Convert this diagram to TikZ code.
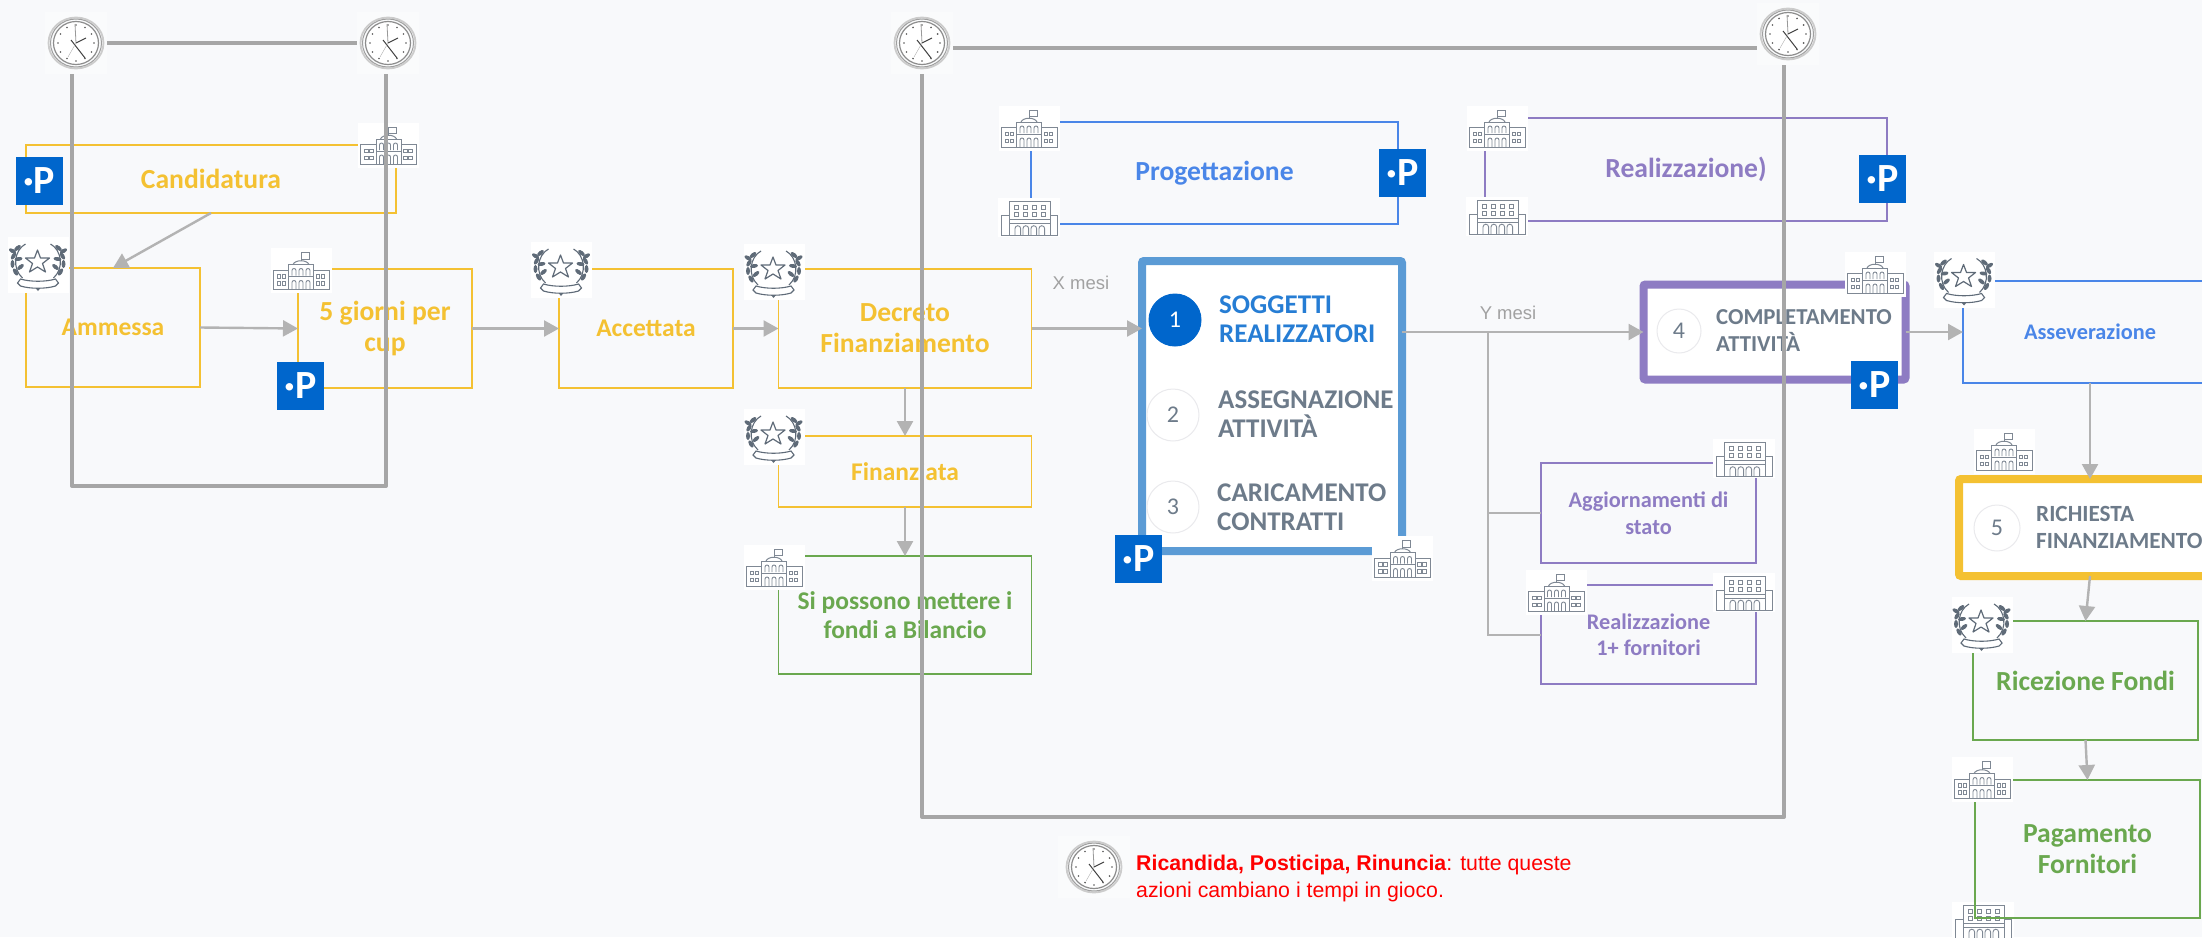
\documentclass[tikz,border=0pt]{standalone}
\usepackage{xcolor}
\usepackage{fontspec}
\setmainfont{Liberation Sans}
\newfontfamily\titlefont{Carlito}
\usetikzlibrary{arrows.meta}

\definecolor{pagebg}{HTML}{F8F9FB}
\definecolor{yellowline}{HTML}{F4C132}
\definecolor{blueline}{HTML}{4A86E8}
\definecolor{purpleline}{HTML}{8E7CC3}
\definecolor{greenline}{HTML}{6AA84F}
\definecolor{stepblue}{HTML}{5B9BD5}
\definecolor{pblue}{HTML}{0066CC}
\definecolor{iconline}{HTML}{7F8894}
\definecolor{wreathline}{HTML}{5F6B78}
\definecolor{framegray}{HTML}{A6A6A6}
\definecolor{linkgray}{HTML}{B3B3B3}
\definecolor{stepgray}{HTML}{6D7B8A}

% icons, drawn from the centre of their node
\newcommand{\buildingdraw}{
  \draw[iconline, line width=1pt] (-28,-0.3) rectangle (28,19);
  \draw[iconline, line width=1pt, fill=white] (-12.5,-6) rectangle (12.5,19);
  \draw[iconline, line width=1pt] (-12.5,6) -- (12.5,6);
  \draw[iconline, line width=1pt] (-8,-6) .. controls (-6,-11) and (6,-11) .. (8,-6);
  \draw[iconline, line width=1pt] (0,-10) -- (0,-18) -- (8,-18) -- (8,-11.5) -- (0,-11.5);
  \foreach \wx in {-24,-19,15,20} \foreach \wy in {4,11}
    \draw[iconline, line width=0.9pt] (\wx,\wy) rectangle ++(3.5,3.5);
  \foreach \ax in {-9,-2,5} {
    \draw[iconline, line width=0.9pt] (\ax,5) -- (\ax,0) arc[start angle=180, end angle=360, radius=2] -- ++(0,5);
    \draw[iconline, line width=0.9pt] (\ax,19) -- (\ax,12) arc[start angle=180, end angle=360, radius=2] -- ++(0,7);
  }
}
\newcommand{\flatdraw}{
  \draw[iconline, line width=1pt] (-28,-2) rectangle (28,18);
  \draw[iconline, line width=1pt, fill=white] (-20,-16) rectangle (21,18);
  \draw[iconline, line width=1pt] (-20,2) -- (21,2) (-20,6) -- (21,6);
  \foreach \wx in {-15,-6,3,12} \foreach \wy in {-12,-5}
    \draw[iconline, line width=0.9pt] (\wx,\wy) rectangle ++(4,4);
  \foreach \ax in {-14,-6,2,10}
    \draw[iconline, line width=0.9pt] (\ax,18) -- (\ax,11) arc[start angle=180, end angle=360, radius=2.8] -- ++(0,7);
}
\newcommand{\wreathdraw}{
  \draw[wreathline, line width=1.2pt, line join=round] (-1,-15)
    -- (2,-7) -- (11,-7) -- (4,-1.5) -- (7,7) -- (-1,2) -- (-9,7) -- (-6,-1.5) -- (-13,-7) -- (-4,-7) -- cycle;
  \draw[wreathline, line width=1.1pt] (-13,-21) .. controls (-24,-15) and (-27,3) .. (-16,13);
  \draw[wreathline, line width=1.1pt] (12,-21) .. controls (23,-15) and (26,3) .. (15,13);
  \foreach \ly/\lx/\lr in {-17/-21/40,-9/-25/60,-1/-26/90,7/-23/120,-14/-26/-30,-6/-20/10,2/-18/40} {
    \fill[wreathline] (\lx,\ly) ellipse[x radius=4, y radius=2, rotate=\lr];
    \fill[wreathline] (-\lx-1,\ly) ellipse[x radius=4, y radius=2, rotate=-\lr];
  }
  \draw[wreathline, line width=1.1pt, fill=white] (-18,14) .. controls (-8,17) and (7,17) .. (17,14)
    -- (20,18) -- (17,21) .. controls (7,24) and (-8,24) .. (-18,21) -- (-21,18) -- cycle;
  \fill[wreathline] (-3,23) -- (2,23) -- (-0.5,26) -- cycle;
}
\newcommand{\clockdraw}{
  \draw[gray!40, line width=1.8pt] (0,0) ellipse[x radius=27.5, y radius=25.5];
  \draw[gray!75, line width=1pt] (0,0) ellipse[x radius=25.5, y radius=24];
  \draw[gray!90, line width=1.2pt, fill=white] (0,0) ellipse[x radius=22.5, y radius=21.5];
  \foreach \tick in {0,30,...,330}
    \fill[black!65] (\tick:18) circle[radius=0.9];
  \draw[gray!80, line width=0.8pt] (0,0) -- (-1,-19);
  \draw[black!75, line width=1pt] (0,0) -- (10,-5);
  \draw[black!75, line width=1pt] (-5,-3) -- (9,15);
  \draw[gray!60, line width=0.4pt] (0,0) -- (-8,14);
}

\tikzset{
  stagebox/.style={draw=#1, text=#1, line width=1.6pt, outer sep=0pt, inner sep=0pt, align=center,
    font=\titlefont\bfseries\fontsize{27.6}{31}\selectfont},
  stagemid/.style={font=\titlefont\bfseries\fontsize{25.5}{29}\selectfont},
  stagesmall/.style={font=\titlefont\bfseries\fontsize{22.3}{26.5}\selectfont},
  stepframe/.style={draw=#1, line width=8pt, fill=white, rounded corners=2pt, outer sep=0pt},
  stepnum/.style={circle, draw=#1, line width=1pt, fill=white, inner sep=0pt, outer sep=0pt, text=stepgray,
    font=\titlefont\fontsize{24}{24}\selectfont},
  steptext/.style={anchor=west, inner sep=0pt, align=left, text=stepgray,
    font=\titlefont\bfseries\fontsize{27}{29}\selectfont},
  ptag/.style={fill=pblue, text=white, minimum width=47pt, minimum height=48pt, inner sep=0pt, outer sep=0pt,
    font=\titlefont\bfseries\fontsize{40}{40}\selectfont},
  building/.style={fill=white, minimum width=61pt, minimum height=45pt, inner sep=0pt, outer sep=0pt,
    path picture={\buildingdraw}},
  flatblock/.style={fill=white, minimum width=62pt, minimum height=39pt, inner sep=0pt, outer sep=0pt,
    path picture={\flatdraw}},
  wreath/.style={fill=white, minimum width=61pt, minimum height=56pt, inner sep=0pt, outer sep=0pt,
    path picture={\wreathdraw}},
  clockface/.style={fill=white!30!pagebg, minimum width=#1pt, minimum height=62pt, inner sep=0pt, outer sep=0pt,
    path picture={\begin{scope}[scale=#1/62]\clockdraw\end{scope}}},
  link/.style={draw=linkgray, line width=2.4pt, -{Triangle[length=15pt,width=16pt]}},
  branch/.style={draw=linkgray, line width=2pt},
  frameline/.style={draw=framegray, line width=4pt, line join=round},
  timelabel/.style={text=linkgray!90!black, font=\fontsize{18.5}{18.5}\selectfont, inner sep=0pt}
}

\begin{document}
\begin{tikzpicture}[x=1pt, y=-1pt]
  \useasboundingbox (0,0) rectangle (2202,937);
  \fill[pagebg] (0,0) rectangle (2202,937);

  % stage boxes
  \node[stagebox=yellowline, minimum width=370pt, minimum height=68pt] (candidatura) at (211,179) {Candidatura};
  \node[stagebox=yellowline, stagemid, minimum width=174pt, minimum height=119pt] (ammessa) at (113,327.5) {Ammessa};
  \node[stagebox=yellowline, minimum width=174pt, minimum height=119pt] (giorni) at (385,328.5) {5 giorni per\\cup};
  \node[stagebox=yellowline, stagemid, minimum width=174pt, minimum height=119pt] (accettata) at (646,328.5) {Accettata};
  \node[stagebox=yellowline, minimum width=253pt, minimum height=119pt] (decreto) at (905,328.5) {Decreto\\Finanziamento};
  \node[stagebox=yellowline, stagemid, minimum width=253pt, minimum height=71pt] (finanziata) at (905,471.5) {Finanziata};
  \node[stagebox=greenline, stagemid, minimum width=253pt, minimum height=118pt] (bilancio) at (905,615) {Si possono mettere i\\fondi a Bilancio};
  \node[stagebox=blueline, minimum width=367pt, minimum height=102pt] (progettazione) at (1214.5,173) {Progettazione};
  \node[stagebox=purpleline, minimum width=402pt, minimum height=103pt] (realizzazione) at (1686,169.5) {Realizzazione)};
  \node[stagebox=purpleline, stagesmall, minimum width=215pt, minimum height=100pt] (aggiornamenti) at (1648.5,513) {Aggiornamenti di\\stato};
  \node[stagebox=purpleline, stagesmall, minimum width=215pt, minimum height=99pt] (fornitori) at (1648.5,634.5) {Realizzazione\\1+ fornitori};
  \node[stagebox=blueline, stagesmall, minimum width=254pt, minimum height=102pt] (asseverazione) at (2090,332) {Asseverazione};
  \node[stagebox=greenline, minimum width=225pt, minimum height=119pt] (ricezione) at (2085.5,680.5) {Ricezione Fondi};

  \node[flatblock] (pagamentofine) at (1983,921) {};
  \node[stagebox=greenline, minimum width=225pt, minimum height=138pt] (pagamento) at (2087.5,849) {Pagamento\\Fornitori};

  % step panels
  \node[stepframe=stepblue, minimum width=260pt, minimum height=290pt] (soggetti) at (1272,406) {};
  \node[stepnum=pblue, fill=pblue, text=white, minimum size=52pt] (uno) at (1175,320) {1};
  \node[steptext, text=pblue!85!white] (unotext) at (1219,319.5) {SOGGETTI\\REALIZZATORI};
  \node[stepnum=blue!8!gray!15, minimum size=52pt] (due) at (1173,415) {2};
  \node[steptext] (duetext) at (1218,414.5) {ASSEGNAZIONE\\ATTIVITÀ};
  \node[stepnum=blue!8!gray!15, minimum size=52pt] (tre) at (1173,507) {3};
  \node[steptext] (tretext) at (1217,507) {CARICAMENTO\\CONTRATTI};

  \node[stepframe=purpleline, minimum width=262pt, minimum height=95pt] (completamento) at (1774.5,332) {};
  \node[stepnum=blue!8!gray!15, minimum size=44pt] (quattro) at (1679,331) {4};
  \node[steptext, font=\titlefont\bfseries\fontsize{22.8}{27}\selectfont] (quattrotext) at (1716,330.5) {COMPLETAMENTO\\ATTIVITÀ};

  \node[stepframe=yellowline, minimum width=262pt, minimum height=97pt] (richiesta) at (2090,527.5) {};
  \node[stepnum=blue!8!gray!15, minimum size=46pt] (cinque) at (1997,528) {5};
  \node[steptext, font=\titlefont\bfseries\fontsize{23.2}{27}\selectfont] (cinquetext) at (2036,527.5) {RICHIESTA\\FINANZIAMENTO};

  % connectors
  \draw[link] (candidatura.south) -- (ammessa.north);
  \draw[link] (ammessa.east) -- (giorni.west);
  \draw[link] (giorni.east) -- (accettata.west);
  \draw[link] (accettata.east) -- (decreto.west);
  \draw[link] (decreto.south) -- (finanziata.north);
  \draw[link] (finanziata.south) -- (bilancio.north);
  \draw[link] (decreto.east) -- (decreto.east -| soggetti.west);
  \draw[link] (soggetti.east |- completamento.west) -- (completamento.west);
  \draw[link] (completamento.east) -- (asseverazione.west);
  \draw[link] (asseverazione.south) -- (richiesta.north);
  \draw[link] (richiesta.south) -- (ricezione.north);
  \draw[link] (ricezione.south) -- (pagamento.north);
  \coordinate (ybranch) at (1488,332);
  \draw[branch] (ybranch) |- (fornitori.west);
  \draw[branch] (ybranch |- aggiornamenti.west) -- (aggiornamenti.west);
  \node[timelabel] (xmesi) at (1081,283) {X mesi};
  \node[timelabel] (ymesi) at (1508,313) {Y mesi};

  % icons
  \node[building] (icona) at (388.5,145) {};
  \node[building] (iconb) at (301,270.5) {};
  \node[building] (iconc) at (774,567) {};
  \node[building] (icond) at (1402.5,558.5) {};
  \node[building] (icone) at (1029,128) {};
  \node[flatblock] (iconf) at (1029,217.5) {};
  \node[building] (icong) at (1497,128) {};
  \node[flatblock] (iconh) at (1497,216) {};
  \node[building] (iconi) at (1875,274) {};
  \node[flatblock] (iconj) at (1744,458.5) {};
  \node[building] (iconk) at (1556.5,592) {};
  \node[flatblock] (iconl) at (1744,592) {};
  \node[building] (iconm) at (2004,451) {};
  \node[building] (iconn) at (1982,779.5) {};
  \node[wreath] (wreatha) at (38.5,265) {};
  \node[wreath] (wreathb) at (561.5,270) {};
  \node[wreath] (wreathc) at (774,272) {};
  \node[wreath] (wreathd) at (774,437) {};
  \node[wreath] (wreathe) at (1964.5,279.5) {};
  \node[wreath] (wreathf) at (1982,625) {};

  % P tags
  \node[ptag] (pa) at (39,181) {·P};
  \node[ptag] (pb) at (300.5,386) {·P};
  \node[ptag] (pc) at (1138.5,559) {·P};
  \node[ptag] (pd) at (1402.5,173) {·P};
  \node[ptag] (pe) at (1882.5,179) {·P};
  \node[ptag] (pf) at (1874.5,385) {·P};

  % clocks and time frames
  \node[clockface=62] (clocka) at (76,43) {};
  \node[clockface=62] (clockb) at (388,43) {};
  \node[clockface=62] (clockc) at (922,43) {};
  \node[clockface=62] (clockd) at (1788,34) {};
  \node[clockface=72] (clocke) at (1094,867) {};
  \coordinate (cornera) at (72,486);
  \coordinate (cornerc) at (922,817);
  \draw[frameline] (clocka.east) -- (clockb.west);
  \draw[frameline] ([xshift=-4pt]clocka.south) -- (cornera) -| ([xshift=-2pt]clockb.south);
  \draw[frameline] ([yshift=-5pt]clockc.east) -- ([yshift=-5pt]clockc.east -| clockd.west);
  \draw[frameline] (clockc.south) -- (cornerc) -| ([xshift=-4pt]clockd.south);

  \node[anchor=west, inner sep=0pt, align=left, text=red, font=\fontsize{21.3}{27}\selectfont] (nota) at (1136,878.5)
    {\textbf{Ricandida, Posticipa, Rinuncia}: tutte queste\\azioni cambiano i tempi in gioco.};
\end{tikzpicture}
\end{document}
